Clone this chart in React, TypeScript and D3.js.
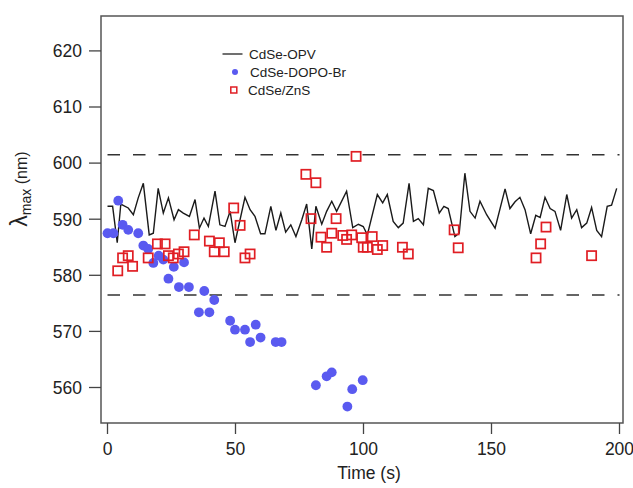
import React from "react";
import * as d3 from "d3";

// CdSe-OPV line series
const opvTime = [0, 2, 3.8, 5.2, 8.1, 10.1, 12, 14, 16.3, 17.9, 19.8, 21.8, 23.8, 26, 27.7, 29.6, 32, 34.2, 35.9, 37.7, 39.4, 42, 43.9, 45.9, 47.9, 49.8, 53.7, 55.7, 57.6, 59.8, 61.5, 63.8, 65.8, 67.7, 69.6, 71.6, 73.6, 75.9, 77.8, 79.8, 81.4, 83.7, 85.6, 87.6, 89.5, 93.4, 95.8, 98, 99.9, 101.5, 105.4, 107.5, 109.3, 111.6, 113.6, 115.5, 117.8, 119.5, 121.4, 123.4, 125.3, 127.3, 129.6, 131.4, 133.1, 135.7, 137.4, 139.6, 141.6, 143.6, 145.5, 148.1, 151.4, 155.3, 157.2, 159.2, 161.1, 163.1, 165.3, 167.3, 169, 170.9, 172.9, 174.8, 177, 179.4, 181.3, 183.3, 185.2, 187.2, 189.1, 191.1, 193, 195.2, 196.9, 198.9];
const opvValue = [592.3, 592.3, 585.8, 592.7, 592.0, 590.8, 593.8, 596.4, 587.2, 587.5, 595.5, 591.1, 593.8, 589.9, 591.7, 591.1, 590.5, 593.5, 588.4, 590.2, 588.7, 595.0, 589.0, 588.7, 591.4, 585.8, 593.9, 591.7, 590.5, 587.4, 587.4, 592.3, 588.0, 591.1, 587.7, 589.0, 586.9, 589.9, 592.7, 584.7, 592.3, 589.1, 591.4, 593.2, 591.4, 595.0, 588.5, 589.1, 588.7, 587.2, 594.4, 592.9, 594.4, 589.6, 588.5, 589.3, 596.4, 589.6, 590.1, 589.0, 595.5, 595.1, 591.1, 592.3, 591.9, 586.9, 587.5, 598.2, 591.4, 590.2, 593.2, 590.8, 588.4, 595.4, 591.9, 593.1, 593.9, 591.7, 587.4, 590.7, 590.3, 593.9, 591.9, 591.4, 588.0, 594.4, 590.2, 591.7, 588.5, 589.3, 592.1, 588.0, 586.9, 592.3, 592.5, 595.5];

// CdSe-DOPO-Br points
const dopoTime = [0, 2.3, 4.2, 5.9, 8.1, 12, 14, 15.9, 17.9, 20, 21.8, 23.8, 25.9, 27.9, 29.9, 31.8, 35.7, 37.8, 39.8, 41.7, 47.9, 49.8, 53.7, 55.7, 57.9, 59.8, 65.7, 68, 81.4, 85.6, 87.6, 93.7, 95.6, 99.7];
const dopoValue = [587.5, 587.5, 593.3, 589.0, 588.1, 587.5, 585.3, 584.7, 582.2, 583.5, 582.8, 579.4, 581.5, 577.9, 582.3, 577.9, 573.4, 577.2, 573.4, 575.6, 571.9, 570.3, 570.3, 568.1, 571.2, 568.9, 568.1, 568.1, 560.4, 562.0, 562.7, 556.6, 559.7, 561.3];

// CdSe/ZnS points
const znsTime = [4, 5.9, 8.1, 9.8, 15.9, 19.5, 22.5, 23.8, 25.7, 27.7, 29.9, 33.9, 39.8, 41.7, 43.7, 45.6, 49.3, 51.8, 53.7, 55.7, 77.5, 79.5, 81.4, 83.4, 85.6, 87.6, 89.3, 91.9, 93.4, 95.4, 97.1, 99.3, 99.9, 101.5, 103.4, 105.4, 107.5, 115.2, 117.5, 135.4, 137, 167.4, 169.2, 171.3, 189.1];
const znsValue = [580.8, 583.1, 583.5, 581.6, 583.1, 585.6, 585.6, 583.5, 583.1, 583.8, 584.2, 587.2, 586.1, 584.2, 585.8, 584.2, 592.0, 588.9, 583.1, 583.8, 598.0, 590.1, 596.5, 586.8, 585.0, 587.5, 590.1, 587.1, 586.4, 587.2, 601.2, 586.7, 585.0, 585.0, 586.9, 584.6, 585.3, 585.0, 583.8, 588.1, 584.9, 583.1, 585.6, 588.6, 583.5];

const refLines = [601.5, 576.5];
const xTicks = [0, 50, 100, 150, 200];
const yTicks = [560, 570, 580, 590, 600, 610, 620];
const legendLabels = ["CdSe-OPV", "CdSe-DOPO-Br", "CdSe/ZnS"];

const W = 633;
const H = 488;
const L = 101, R = 623, T = 16, B = 423;
const FONT = "'Liberation Sans', Arial, Helvetica, sans-serif";
const BLUE = "#5a5af0";
const RED = "#e01e24";

export default function App() {
  const x = d3.scaleLinear().domain([0, 200]).range([107.5, 619.5]);
  const y = d3.scaleLinear().domain([560, 620]).range([387.5, 50.9]);

  const linePts: [number, number][] = opvTime.map((t, i) => [t, opvValue[i]]);
  const lineGen = d3.line<[number, number]>().x((d) => x(d[0])).y((d) => y(d[1]));
  const sq = 9.2;

  return (
    <svg width={W} height={H} style={{ position: "absolute", left: 0, top: 0, background: "#fff" }} fontFamily={FONT}>
      <rect x={0} y={0} width={W} height={H} fill="#fff" />
      {refLines.map((v) => (
        <line key={v} x1={x(0)} x2={x(200)} y1={y(v)} y2={y(v)} stroke="#333" strokeWidth={1.5} strokeDasharray="12.5,13" />
      ))}
      <path d={lineGen(linePts) || ""} fill="none" stroke="#1a1a1a" strokeWidth={1.4} />
      {dopoTime.map((t, i) => (
        <circle key={"b" + i} cx={x(t)} cy={y(dopoValue[i])} r={4.9} fill={BLUE} />
      ))}
      {znsTime.map((t, i) => (
        <rect key={"r" + i} x={x(t) - sq / 2} y={y(znsValue[i]) - sq / 2} width={sq} height={sq} fill="none" stroke={RED} strokeWidth={1.7} />
      ))}
      <rect x={L} y={T} width={R - L} height={B - T} fill="none" stroke="#555" strokeWidth={1.5} />
      {yTicks.map((v) => (
        <g key={"y" + v}>
          <line x1={L - 12} x2={L} y1={y(v)} y2={y(v)} stroke="#444" strokeWidth={1.3} />
          <text x={82} y={y(v)} dy="0.36em" textAnchor="end" fontSize={17.5} fill="#222">{v}</text>
        </g>
      ))}
      {xTicks.map((v) => (
        <g key={"x" + v}>
          <line x1={x(v)} x2={x(v)} y1={B} y2={B + 11} stroke="#444" strokeWidth={1.3} />
          <text x={x(v)} y={455} textAnchor="middle" fontSize={17.5} fill="#222">{v}</text>
        </g>
      ))}
      <text x={369} y={479} textAnchor="middle" fontSize={17.5} fill="#222">Time (s)</text>
      <text transform="translate(27,189) rotate(-90)" textAnchor="middle" fill="#222">
        <tspan fontSize={23}>λ</tspan>
        <tspan fontSize={14} dy={4}>max</tspan>
        <tspan fontSize={16} dy={-4}> (nm)</tspan>
      </text>
      <line x1={222.5} x2={242.5} y1={54} y2={54} stroke="#222" strokeWidth={1.3} />
      <text x={249} y={58.5} fontSize={13.5} fill="#222">{legendLabels[0]}</text>
      <circle cx={235} cy={72} r={3} fill={BLUE} />
      <text x={250} y={76.5} fontSize={13.5} fill="#222">{legendLabels[1]}</text>
      <rect x={230.8} y={87} width={6} height={6} fill="none" stroke={RED} strokeWidth={1.5} />
      <text x={248} y={94.5} fontSize={13.5} fill="#222">{legendLabels[2]}</text>
    </svg>
  );
}
